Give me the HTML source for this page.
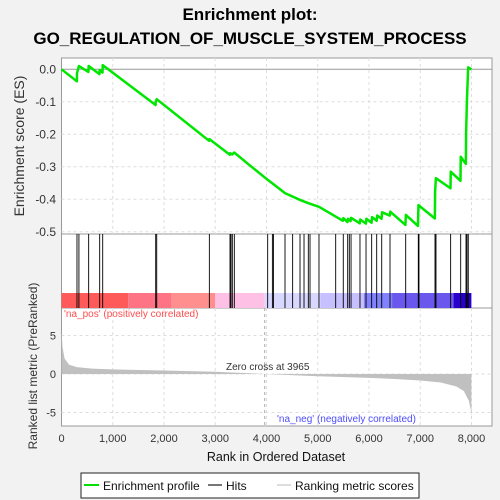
<!DOCTYPE html>
<html><head><meta charset="utf-8"><style>
body{margin:0;background:#f2f2f2;font-family:"Liberation Sans",Arial,sans-serif;}
svg{display:block}
</style></head><body>
<svg id="chart" width="500" height="500" xmlns="http://www.w3.org/2000/svg" font-family="Liberation Sans, Arial, sans-serif">
<rect x="0" y="0" width="500" height="500" fill="#f2f2f2"/>
<text x="250" y="20" text-anchor="middle" font-size="17" font-weight="bold">Enrichment plot:</text>
<text x="250" y="44" text-anchor="middle" font-size="17" font-weight="bold">GO_REGULATION_OF_MUSCLE_SYSTEM_PROCESS</text>
<rect x="61.5" y="58" width="430.5" height="176" fill="#fff" stroke="#999"/>
<rect x="61.5" y="234" width="430.5" height="74" fill="#fff" stroke="#999"/>
<rect x="61.5" y="308" width="430.5" height="118" fill="#fff" stroke="#999"/>
<g id="grid"></g>
<g id="colorbar"></g>
<g id="hits"></g>
<g id="metric"></g>
<g id="es"></g>
<g id="axes" font-size="12" fill="#333"></g>
<text transform="translate(24,146) rotate(-90)" text-anchor="middle" font-size="14" fill="#333">Enrichment score (ES)</text>
<text transform="translate(37,366) rotate(-90)" text-anchor="middle" font-size="12" fill="#333">Ranked list metric (PreRanked)</text>
<text x="276" y="461" text-anchor="middle" font-size="12.5" fill="#111">Rank in Ordered Dataset</text>
<text x="64" y="317" font-size="10" fill="#ff4d4d">'na_pos' (positively correlated)</text>
<text x="277" y="422" font-size="10" fill="#4d4dff">'na_neg' (negatively correlated)</text>
<text x="226" y="370" font-size="10" fill="#333">Zero cross at 3965</text>
<g>
<rect x="81" y="473" width="338" height="25" fill="#fff" stroke="#222"/>
<line x1="84" y1="485" x2="99" y2="485" stroke="#00e000" stroke-width="2"/>
<text x="103" y="490" font-size="12" fill="#111">Enrichment profile</text>
<line x1="208" y1="485" x2="222" y2="485" stroke="#777" stroke-width="2"/>
<text x="226" y="490" font-size="12" fill="#111">Hits</text>
<line x1="277" y1="485" x2="291" y2="485" stroke="#ddd" stroke-width="2"/>
<text x="295" y="490" font-size="12" fill="#111">Ranking metric scores</text>
</g>
</svg>
<script>
const esRanks=[0,300,302,340,525,530,740,745,800,804,1835,1838,1858,2880,2885,3285,3290,3330,3370,3670,4023,4361,4654,4816,5024,5350,5490,5500,5580,5590,5640,5650,5820,5830,5940,5950,6050,6060,6150,6160,6245,6255,6405,6415,6710,6720,6955,6965,7285,7290,7305,7590,7595,7785,7790,7890,7895,7910,7935,7998];
const esValues=[0,-0.037,-0.012,0.01,-0.008,0.01,-0.015,-0.002,-0.01,0.013,-0.11,-0.1,-0.092,-0.22,-0.215,-0.263,-0.258,-0.262,-0.256,-0.295,-0.34,-0.381,-0.402,-0.412,-0.423,-0.453,-0.466,-0.458,-0.47,-0.46,-0.467,-0.457,-0.474,-0.462,-0.475,-0.46,-0.472,-0.455,-0.466,-0.45,-0.46,-0.44,-0.45,-0.438,-0.479,-0.448,-0.482,-0.418,-0.459,-0.376,-0.335,-0.366,-0.315,-0.343,-0.269,-0.291,-0.195,-0.1,0.006,0];
const hitRanks=[302,340,530,745,804,1838,1858,2885,3288,3307,3333,3372,4023,4115,4135,4361,4510,4654,4732,4816,4849,5024,5350,5498,5584,5616,5650,5824,5942,6052,6150,6248,6410,6716,6962,6975,7288,7307,7593,7789,7893,7912,7937];
const metricRanks=[0,20,60,150,300,600,1000,2000,3000,3965,5000,6000,6500,7000,7400,7700,7850,7950,7990,7998];
const metricValues=[5.5,3.5,2.0,1.2,0.9,0.7,0.6,0.45,0.3,0,-0.3,-0.5,-0.65,-0.85,-1.1,-1.6,-2.2,-3.5,-4.8,-6];
const xTicks=[0,1000,2000,3000,4000,5000,6000,7000,8000];
const xTickLabels=["0","1,000","2,000","3,000","4,000","5,000","6,000","7,000","8,000"];
const esTicks=[0,-0.1,-0.2,-0.3,-0.4,-0.5];
const esTickLabels=["0.0","-0.1","-0.2","-0.3","-0.4","-0.5"];
const metricTicks=[5,0,-5];
const metricTickLabels=["5","0","-5"];
const barStops=[0,1300,2150,3000,3965,5050,5900,6450,7650,7998];
const barColors=["#ff5a5a","#ff7484","#ff8e8e","#ffc0e6","#d8d8ff","#c6c0ff","#8282ff","#6a58ee","#2a00cc"];

const NS="http://www.w3.org/2000/svg";
const X=r=>61.5+r*410/8000;
const YE=v=>69.3-v*325;
const YM=v=>374-v*7.7;
function mk(tag,attrs,parent){const e=document.createElementNS(NS,tag);for(const k in attrs)e.setAttribute(k,attrs[k]);document.getElementById(parent).appendChild(e);return e;}

xTicks.forEach((t,i)=>{
  if(t>0){
    let g=mk('line',{x1:X(t),x2:X(t),y1:58,y2:234,stroke:'#ddd','stroke-dasharray':'3,3'},'grid');
    
    
    let g2=mk('line',{x1:X(t),x2:X(t),y1:308,y2:426,stroke:'#ddd','stroke-dasharray':'3,3'},'grid');
    
    
  }
  let tx=mk('text',{x:X(t),y:442,'text-anchor':'middle','font-size':'11'},'axes');
  tx.textContent=xTickLabels[i];
  
  
});
esTicks.forEach((t,i)=>{
  let g=mk('line',{x1:61.5,x2:492,y1:YE(t),y2:YE(t),stroke:t===0?'#999':'#ddd','stroke-dasharray':t===0?'':'3,3'},'grid');
  
  
  let tx=mk('text',{x:56,y:YE(t)+4,'text-anchor':'end','font-size':'12'},'axes');
  tx.textContent=esTickLabels[i];
  
  
});
metricTicks.forEach((t,i)=>{
  let g=mk('line',{x1:61.5,x2:492,y1:YM(t),y2:YM(t),stroke:'#ddd','stroke-dasharray':'3,3'},'grid');
  
  
  let tx=mk('text',{x:56,y:YM(t)+4,'text-anchor':'end','font-size':'11'},'axes');
  tx.textContent=metricTickLabels[i];
  
  
});
let zc=mk('line',{x1:X(3965),x2:X(3965),y1:308,y2:426,stroke:'#aaa','stroke-dasharray':'3,3'},'grid');



for(let i=0;i<barColors.length;i++){
  let r=mk('rect',{x:X(barStops[i]),y:293,width:X(barStops[i+1])-X(barStops[i]),height:15,fill:barColors[i]},'colorbar');
  
  
}
hitRanks.forEach(h=>{
  let l=mk('line',{x1:X(h),x2:X(h),y1:234,y2:308,stroke:'#000','stroke-width':0.9},'hits');
  
  
});
let pts=metricRanks.map((r,i)=>X(r)+','+YM(metricValues[i]));
let area=mk('polygon',{points:X(0)+','+YM(0)+' '+pts.join(' ')+' '+X(7998)+','+YM(0),fill:'#c0c0c0'},'metric');


let esPts=esRanks.map((r,i)=>X(r)+','+YE(esValues[i])).join(' ');
let pl=mk('polyline',{points:esPts,fill:'none',stroke:'#00e600','stroke-width':2.5,'stroke-linejoin':'round'},'es');


</script>
</body></html>
